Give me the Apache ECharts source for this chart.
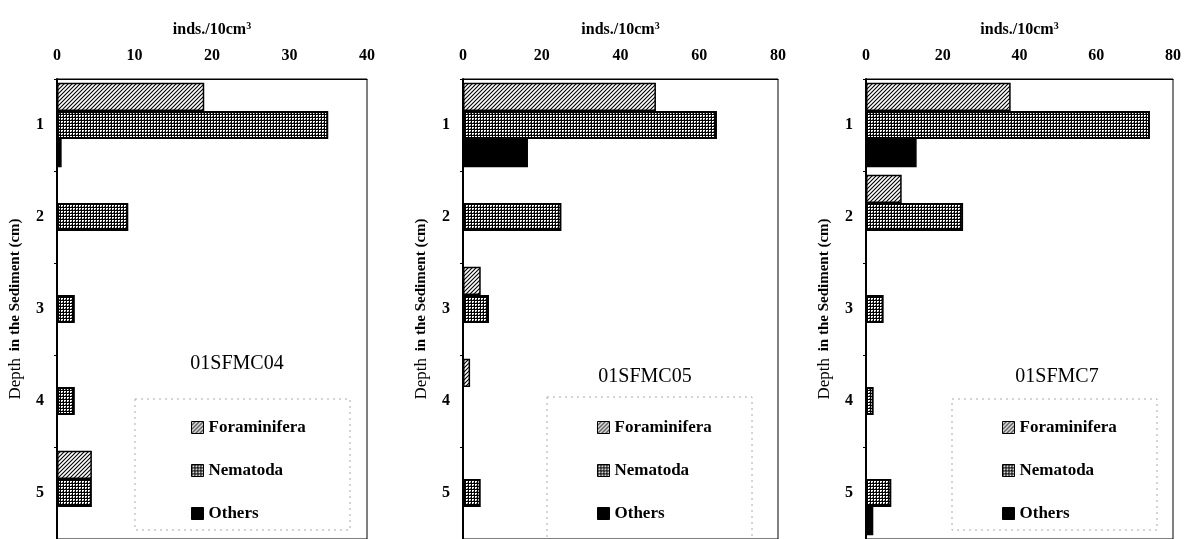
<!DOCTYPE html>
<html>
<head>
<meta charset="utf-8">
<script src="https://cdn.jsdelivr.net/npm/echarts@6/dist/echarts.min.js"></script>
<style>
    html, body { margin: 0; padding: 0; background: #fff; }
    #chart { width: 1184px; height: 539px; }
</style>
</head>
<body>
<div id="chart"></div>
<script>
// depth classes (cm)
var depths = ['1', '2', '3', '4', '5'];
var seriesNames = ['Foraminifera', 'Nematoda', 'Others'];
var coreNames = ['01SFMC04', '01SFMC05', '01SFMC7'];

// inds./10cm3
var foram04 = [19, 0, 0, 0, 4.5];
var nema04 = [35, 9.2, 2.3, 2.3, 4.5];
var others04 = [0.6, 0, 0, 0, 0];

var foram05 = [49, 0, 4.5, 1.8, 0];
var nema05 = [64.5, 25, 6.6, 0, 4.5];
var others05 = [16.5, 0, 0, 0, 0];

var foram07 = [37.7, 9.3, 0, 0, 0];
var nema07 = [74, 25.3, 4.6, 2, 6.6];
var others07 = [13.2, 0, 0, 0, 1.9];

var xMax = [40, 80, 80];
var xStep = [10, 20, 20];

var serif = '"Liberation Serif", "DejaVu Serif", serif';

//斜线填充
function hatchPattern() {
    var c = document.createElement('canvas');
    c.width = 4;
    c.height = 4;
    var ctx = c.getContext('2d');
    ctx.fillStyle = '#fff';
    ctx.fillRect(0, 0, 4, 4);
    ctx.strokeStyle = '#000';
    ctx.lineWidth = 1.1;
    ctx.beginPath();
    ctx.moveTo(-1, 5); ctx.lineTo(5, -1);
    ctx.moveTo(-1, 1); ctx.lineTo(1, -1);
    ctx.moveTo(3, 5); ctx.lineTo(5, 3);
    ctx.stroke();
    return c;
}
//网格填充
function gridPattern() {
    var c = document.createElement('canvas');
    c.width = 3;
    c.height = 3;
    var ctx = c.getContext('2d');
    ctx.fillStyle = '#fff';
    ctx.fillRect(0, 0, 3, 3);
    ctx.fillStyle = '#000';
    ctx.fillRect(0, 0, 3, 1);
    ctx.fillRect(0, 0, 1, 3);
    ctx.fillStyle = '#666';
    ctx.fillRect(2, 2, 1, 1);
    return c;
}

var fills = [
    { image: hatchPattern(), repeat: 'repeat' },
    { image: gridPattern(), repeat: 'repeat' },
    '#000'
];

var panelData = [
    [foram04, nema04, others04],
    [foram05, nema05, others05],
    [foram07, nema07, others07]
];

var gridLeft = [57, 463, 866];
var gridWidth = [310, 315, 310];
var legendLeft = [186, 592, 997];
var boxes = [
    { x: 135, y: 399, w: 215, h: 131 },
    { x: 547, y: 397, w: 205, h: 150 },
    { x: 952, y: 399, w: 205, h: 131 }
];
var titlePos = [[237, 364], [645, 377], [1057, 377]];

var grids = [], xAxes = [], yAxes = [], series = [], legends = [], graphics = [];

for (var p = 0; p < 3; p++) {
    grids.push({
        left: gridLeft[p],
        width: gridWidth[p],
        top: 79,
        bottom: 0,
        show: true,
        borderColor: '#000',
        borderWidth: 1
    });
    xAxes.push({
        gridIndex: p,
        type: 'value',
        position: 'top',
        min: 0,
        max: xMax[p],
        interval: xStep[p],
        name: '{n|inds./10cm}{s|3}',
        nameLocation: 'middle',
        nameGap: 40,
        nameTextStyle: {
            rich: {
                n: { fontFamily: serif, fontWeight: 'bold', fontSize: 16, color: '#000' },
                s: { fontFamily: serif, fontWeight: 'bold', fontSize: 10, color: '#000', verticalAlign: 'top', padding: [0, 0, 8, 0] }
            }
        },
        axisLine: { show: true, lineStyle: { color: '#000', width: 1 } },
        axisTick: { show: false },
        splitLine: { show: false },
        axisLabel: {
            margin: 15,
            fontFamily: serif,
            fontWeight: 'bold',
            fontSize: 16,
            color: '#000'
        }
    });
    yAxes.push({
        gridIndex: p,
        type: 'category',
        inverse: true,
        data: depths,
        name: '{a|Depth}  {b|in the Sediment (cm)}',
        nameLocation: 'middle',
        nameRotate: 90,
        nameGap: 33,
        nameTextStyle: {
            rich: {
                a: { fontFamily: serif, fontSize: 17, color: '#000' },
                b: { fontFamily: serif, fontSize: 15, fontWeight: 'bold', color: '#000' }
            }
        },
        axisLine: { show: true, lineStyle: { color: '#000', width: 2 } },
        axisTick: { show: true, length: 3, lineStyle: { color: '#000' } },
        axisLabel: {
            margin: 13,
            fontFamily: serif,
            fontWeight: 'bold',
            fontSize: 16,
            color: '#000'
        }
    });
    for (var s = 0; s < 3; s++) {
        series.push({
            name: seriesNames[s],
            type: 'bar',
            xAxisIndex: p,
            yAxisIndex: p,
            barGap: '0%',
            barCategoryGap: '8%',
            data: panelData[p][s],
            itemStyle: {
                color: fills[s],
                borderColor: '#000',
                borderWidth: s === 1 ? 2 : 1.5
            },
            emphasis: { disabled: true }
        });
    }
    legends.push({
        orient: 'vertical',
        left: legendLeft[p],
        top: 414,
        icon: 'rect',
        itemWidth: 12,
        itemHeight: 12,
        itemGap: 26,
        data: seriesNames,
        selectedMode: false,
        itemStyle: { borderColor: '#000', borderWidth: 1 },
        textStyle: {
            fontFamily: serif,
            fontWeight: 'bold',
            fontSize: 17,
            color: '#000'
        }
    });
    graphics.push({
        type: 'rect',
        shape: { x: boxes[p].x, y: boxes[p].y, width: boxes[p].w, height: boxes[p].h },
        style: { fill: 'none', stroke: '#aaa', lineWidth: 1, lineDash: [2, 4] },
        z: -1
    });
    graphics.push({
        type: 'text',
        x: titlePos[p][0],
        y: titlePos[p][1],
        style: {
            text: coreNames[p],
            textAlign: 'center',
            textVerticalAlign: 'middle',
            font: '20px ' + serif,
            fill: '#000'
        }
    });
}

var option = {
    backgroundColor: '#fff',
    animation: false,
    grid: grids,
    xAxis: xAxes,
    yAxis: yAxes,
    legend: legends,
    series: series,
    graphic: graphics
};

var myChart = echarts.init(document.getElementById('chart'));
myChart.setOption(option);
</script>
</body>
</html>
